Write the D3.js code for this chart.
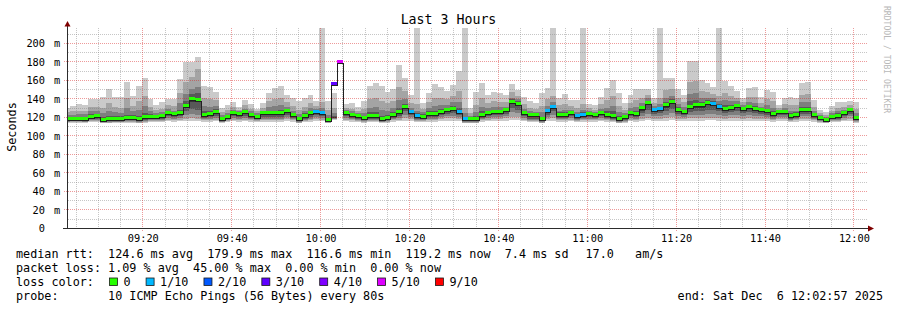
<!DOCTYPE html>
<html><head><meta charset="utf-8">
<script src="https://cdn.jsdelivr.net/npm/d3@7"></script>
<style>
body{margin:0;background:#fff;}
svg{display:block;font-family:"DejaVu Sans Mono",monospace;}
</style></head><body>
<svg id="chart" width="897" height="310"></svg>
<script>
// ---------------- data ----------------
const title = "Last 3 Hours";
const yLabel = "Seconds";
const watermark = "RRDTOOL / TOBI OETIKER";
const windowStart = "2025-12-06T09:02:57Z";
const windowEnd = "2025-12-06T12:02:57Z";
const firstSample = "2025-12-06T09:02:24Z";
const stepSeconds = 80;
const yMax = 216.2;
const yTicks = [0,20,40,60,80,100,120,140,160,180,200];

const median = [118,118,118,118,120.4,121,116.6,117.5,118,118,
118.6,119,117.8,119.5,120.4,120.4,121,124.5,122.7,124.5,
132,139,138.4,122,123.5,125.7,117.8,120.4,124.5,123.5,
125,122.5,120.5,124,124,124,124,126,122.3,117.6,
121.5,124,125.5,124.5,117,155.2,179.9,124.7,122.3,121.5,
118.7,121.5,121.5,118,119.4,122.3,125,130.6,125.5,121.5,
120.5,123.7,123.7,125.7,127.5,129,125.7,117.6,117.6,117.6,
122.3,124.7,125.7,125.7,127.2,136.5,134.3,124.7,121.7,121.7,
117.6,126.4,131,122.3,122.3,124.7,121,122.3,123.7,122.3,
124.7,122.3,121.2,117.6,119.8,124.7,123.7,129.2,135.4,127.5,
129,132.5,136,128,125.7,130.6,132.5,132.5,135.5,134,
131,129,130,131.8,129,130.6,129,127.2,126.4,123.7,
125.5,125.7,121.5,122.3,128,127.2,122.3,118.7,117,120.5,
121.5,124.7,127.2,119.2];

const loss = [0,0,0,0,0,0,0,0,0,0,
0,0,0,0,0,0,0,0,0,0,
0,0,0,0,0,0,0,0,0,0,
0,0,0,0,0,0,0,0,0,0,
0,0,1,1,0,3,4.5,0,0,0,
0,0,0,0,0,0,0,0,1,1,
0,0,0,0,0,0,1,1,0,0,
0,0,0,0,0,0,0,0,0,0,
0,1,1,0,0,0,1,1,0,0,
0,0,0,0,0,0,0,0,0,1,
1,0,0,0,0,0,0,0,0,1,
1,0,0,0,0,0,0,0,0,0,
0,0,0,0,0,0,0,0,0,0,
0,0,0,0];

const ping10 = [130,132,134,133,139,139,141.6,150,141.8,141.8,
158,142.5,153.5,162,139,133,136,139,139,161,
179.8,179,185,153.5,152,147.5,129.7,133,136.5,131,
138,134.5,129,135,146,151,153,144,140,137,
140,143.5,137,240,137.5,146,null,134,135,131,
137,153,157,153,147.5,150,176,162.5,143.5,240,
135,146,156,152.5,148,154.5,170,240,129.7,147,
157,144,147,146,144,155.7,149.6,142,137,135,
146,151,240,141,144.6,138.5,138.5,240,134,132.5,
142,151,160,146,135,144,150.4,150.4,150.4,141,
240,161.8,161.8,150,144,180,180,160,157,152.5,
240,159,153,148,141,151,152,141.4,149,147,
133,141,142,141,156.5,158.3,138.5,128,125.5,131.4,
136,136,137.5,136];

const ping9 = [125,126,127,126,131,131,130,135,131,130,
140,132,137,143,131,128,129,133,132,146,
158,163,172,141,139,138,125,128,131,128,
133,129,126,130,137,139,140,136,132,128,
131,135,132,136,128,130,null,130,129,127,
129,139,141,137,135,137,152,148,135,134,
129,136,141,140,139,143,148,130,124,133,
141,135,137,136,136,147,143,134,130,129,
132,139,143,133,134,132,130,134,130,128,
134,138,143,132,128,135,138,141,144,135,
140,149,150,140,136,158,159,148,147,145,
143,146,143,141,136,142,142,135,139,137,
130,134,133,133,144,145,131,124,122,127,
130,131,133,129];

const ping8 = [122,122,123,123,126,126,124,127,125,124,
130,126,128,132,126,124,125,129,127,135,
145,150,152,132,131,132,122,124,128,126,
129,126,124,127,131,132,133,131,127,123,
126,130,129,130,122,124,null,127.5,126,124.5,
124,130,131,128,127,130,138,139,130,127,
125,130,132,133,133,136,136,124,121,125,
131,130,131,131,131,141,139,129,126,125,
125,132,136,127,128,128,125,128,127,125.5,
129,130,132,125,124,130,131,135,140,132,
134,141,143,134,131,145,146,141,141,140,
137,138,137,137,133,136,135,131,133,130,
128,130,127,127,136,136,127,122,120,124,
126,128,130,124];

const ping7 = [120,120,120,120,123,123,120,121,121,121,
122,122,121,124,123,122,123,127,125,128,
137,145,146,126,127,129,120,122,126,125,
127,124,122,126,127,127,128,128,124,120,
124,127,127,127,119,121,null,126,124,123,
121,125,125,121,122,125,130,134,128,124,
123,126,127,129,130,132,130,120,119.5,121,
126,127,128,128,129,139,137,127,124,123.5,
120.5,129,133,125,125,126,123,125,125,124,
127,126,126,121,122,127,127,132,137.5,130,
131,136,139,131,128,137,138,136,138,137,
134,133,133,134,131,133,132,129,129,126,
127,128,124,125,131,131,124.5,120.5,118.5,122,
124,126.5,128.5,121];

const ping6 = [119,119,119,119,121.5,122,118,118.5,119,119,
120,120,119,121,121.5,121.5,122,125.5,123.5,126,
134,141,140,123,124.5,127,119,121.5,125.5,124.5,
126,123.5,121.5,125,125,125,125,127,123,118.5,
122.5,125,126.5,125.5,118,120,null,125.5,123,122.5,
119.5,122.5,122.5,119,120.5,123,126,132,126.5,122.5,
121.5,124.5,124.5,127,128.5,130,127,118.5,118.5,118.5,
123,125.5,127,127,128,137.5,135.5,125.5,122.5,122.5,
118.5,127.5,132,123,123,125.5,122,123,124.5,123,
125.5,123,122,118.5,120.5,125.5,124.5,130,136.5,128.5,
130,133.5,137,129,127,132,134,134,136.5,135,
132,130,131,133,130,131.5,130,128,127.5,124.5,
126.5,127,122.5,123,129,128,123,119.5,118,121.5,
122.5,125.5,128,120];

const ping5 = [117,117,117,117,119,120,116,117,117,117,
118,118,117,118,119,119,120,123,121,123,
130,136,136,121,122,124,117,119,123,122,
123,121,119,122,122,122,122,124,121,117,
120,122,124,123,116,119,null,123,121,120,
118,120,120,117,118,121,123,129,124,120,
119,122,122,124,126,127,124,117,117,117,
121,123,124,124,126,134,132,123,120,120,
117,125,129,121,121,123,120,121,122,121,
123,121,120,117,119,123,122,127,133,126,
127,130,134,126,124,129,130,130,133,132,
129,127,128,130,127,129,127,126,125,122,
124,124,120,121,126,126,121,118,116,119,
120,123,126,118];

const ping4 = [116,116,116,116,118,118,115,116,116,116,
117,117,116,117,118,118,118,121,120,121,
126,129,128,119,120,121,116,118,121,120,
121,119,118,120,120,120,120,122,119,116,
118,120,122,121,115.5,118.5,null,121,119,118,
117,118,118,116,117,119,121,126,122,118,
118,120,120,122,123,124,122,116,116,116,
119,121,122,122,123,130,128,121,118,118,
116,122,126,119,119,121,118,119,120,119,
121,119,118,116,117,121,120,124,128,123,
124,126,129,123,122,125,126,126,128,128,
126,124,125,126,124,125,124,123,122,120,
122,122,118,119,123,123,119,117,115.5,118,
118,121,123,117];

const ping3 = [115,116,116,115,117,117,115,115,115,115,
116,116,115,116,117,117,117,119,118,119,
122,123,122,118,118,119,115,117,119,118,
119,118,117,118,118,118,118,120,118,115,
117,118,120,119,115,118,null,119,118,117,
116,117,117,115,116,118,119,122,120,117,
117,118,118,120,121,121,120,115,115,115,
118,119,120,120,121,125,124,119,117,117,
115,120,122,118,118,119,117,118,118,118,
119,118,117,115,116,119,118,121,123,121,
121,122,124,121,120,122,122,122,123,123,
122,121,122,122,121,122,121,121,120,118,
120,120,117,118,121,121,118,116,115,117,
117,119,121,116];

const ping2 = [115,115,115,115,116,116,114,114,115,115,
115,115,114,115,116,116,116,117,117,117,
118,119,118,117,117,117,115,116,117,117,
117,117,116,117,117,117,117,118,117,114,
116,117,118,117,114,117.5,null,117,117,116,
115,116,116,114.5,115,117,117,119,118,116,
116,117,117,118,119,119,118,114,114,114,
117,117,118,118,119,120,120,117,116,116,
114,118,119,117,117,117,116,117,117,117,
117,117,116,114,115,117,117,118,119,118,
118,119,120,118,118,119,119,119,119,119,
119,118,119,119,118,119,118,118,118,117,
118,118,116,117,118,118,117,115,114,116,
116,117,118,115];

const ping1 = [114,114,114,114,115,115,113,113,114,114,
114,114,113,114,115,115,115,116,115,116,
116,116,116,115,115,116,114,115,116,115,
116,115,115,115,115,115,115,116,115,113,
115,115,116,116,113,117,null,116,115,115,
114,115,115,114,114,115,116,116,116,115,
115,115,115,116,116,116,116,113,113,113,
115,116,116,116,116,117,117,116,115,115,
113,116,116,115,115,116,115,115,115,115,
116,115,115,113,114,116,115,116,117,116,
116,116,117,116,116,116,116,116,117,117,
116,116,116,116,116,116,116,116,116,115,
116,116,115,115,116,116,115,114,113,115,
115,116,116,114];

const smokeColors = ["#cacaca","#a4a4a4","#7e7e7e","#585858","#323232"];
const lossLabels = ["0","1/10","2/10","3/10","4/10","5/10","9/10"];
const lossColors = ["#26ff00","#00b8ff","#0059ff","#5e00ff","#7e00ff","#dd00ff","#ff0000"];

const statLine1a = "median rtt:  124.6 ms avg  179.9 ms max  116.6 ms min  119.2 ms now  7.4 ms sd";
const statLine1b = "17.0   am/s";
const statLine2 = "packet loss: 1.09 % avg  45.00 % max  0.00 % min  0.00 % now";
const statLine3 = "loss color:";
const statLine4 = "probe:       10 ICMP Echo Pings (56 Bytes) every 80s";
const endLabel = "end: Sat Dec  6 12:02:57 2025";

// ---------------- drawing ----------------
const svg = d3.select("#chart");
const P = {left:67, right:867, top:28, bottom:228};
const x = d3.scaleUtc().domain([new Date(windowStart), new Date(windowEnd)]).range([P.left, P.right]);
const y = d3.scaleLinear().domain([0, yMax]).range([P.bottom, P.top]);
const T0 = Date.parse(firstSample), stepMs = stepSeconds*1000;
const pings = [ping1,ping2,ping3,ping4,ping5,ping6,ping7,ping8,ping9,ping10];
const steps = median.map((m,i)=>({
  t0:new Date(T0+i*stepMs), t1:new Date(T0+(i+1)*stepMs), med:m, loss:loss[i],
  p:pings.map(a=>a[i])
}));
function lossIdx(l){ if(l<=0) return 0; if(l>=9) return 6; if(l>5) return 5; return Math.ceil(l); }
const sx0 = s=>Math.round(x(s.t0)), sx1 = s=>Math.round(x(s.t1));

svg.append("rect").attr("width",897).attr("height",310).attr("fill","#fff");
svg.append("defs").append("clipPath").attr("id","clip").append("rect")
  .attr("x",P.left).attr("y",P.top).attr("width",P.right-P.left).attr("height",P.bottom-P.top);

// smoke
const gS = svg.append("g").attr("clip-path","url(#clip)").attr("shape-rendering","crispEdges");
for(let k=0;k<5;k++){
  gS.append("g").selectAll("rect")
    .data(steps.filter(s=>s.p[k]!=null && s.p[9-k]!=null)).join("rect")
    .attr("x",sx0).attr("width",s=>sx1(s)-sx0(s))
    .attr("y",s=>Math.round(y(s.p[9-k])))
    .attr("height",s=>Math.round(y(s.p[k]))-Math.round(y(s.p[9-k])))
    .attr("fill",smokeColors[k]);
}

// grid: dotted lines built from 1px dots (1 on / 1 off)
const minorY = d3.range(10, yMax, 10).filter(v=>v%20!==0);
const majorY = yTicks.filter(v=>v>0);
const minorC = "rgba(128,128,128,0.45)", majorC = "rgba(215,30,30,0.45)";
const majorT = x.ticks(d3.utcMinute.every(20));
const minorT = x.ticks(d3.utcMinute.every(5)).filter(t=>t.getUTCMinutes()%20!==0);
function hDots(py, xa, xb){ let d=""; for(let k=xa;k<xb;k+=2) d+=`M${k},${py}h1v1h-1z`; return d; }
function vDots(px, ya, yb){ let d=""; for(let k=ya;k<yb;k+=2) d+=`M${px},${k}h1v1h-1z`; return d; }
const gG = svg.append("g").attr("shape-rendering","crispEdges");
gG.selectAll(".hm").data(minorY).join("path")
  .attr("d",v=>hDots(Math.round(y(v)),P.left+1,P.right)).attr("fill",minorC);
gG.selectAll(".vm").data(minorT).join("path")
  .attr("d",t=>vDots(Math.floor(x(t)),P.top,P.bottom)).attr("fill",minorC);
gG.selectAll(".hM").data(majorY).join("path")
  .attr("d",v=>hDots(Math.round(y(v)),P.left-3,P.right)).attr("fill",majorC);
gG.selectAll(".vM").data(majorT).join("path")
  .attr("d",t=>vDots(Math.floor(x(t)),P.top,P.bottom+4)).attr("fill",majorC);

// median coloured by loss + dark line
const gM = svg.append("g").attr("clip-path","url(#clip)");
gM.append("g").attr("shape-rendering","crispEdges").selectAll("rect").data(steps).join("rect")
  .attr("x",sx0).attr("width",s=>sx1(s)-sx0(s))
  .attr("y",s=>Math.round(y(s.med))-2).attr("height",3)
  .attr("fill",s=>lossColors[lossIdx(s.loss)]);
const pts = [];
steps.forEach(s=>{ const Y=Math.round(y(s.med))+1.5; pts.push([sx0(s),Y],[sx1(s),Y]); });
gM.append("path").attr("d",d3.line()(pts)).attr("fill","none")
  .attr("stroke","#202020").attr("stroke-width",1).attr("shape-rendering","crispEdges");

// axes
const axisC = "#2c2c2c", arrowC = "#7f0000";
const xa = svg.append("g").attr("transform",`translate(0,${P.bottom})`)
  .call(d3.axisBottom(x).tickValues(majorT).tickFormat(d3.utcFormat("%H:%M")).tickSize(0).tickPadding(6.2));
xa.select(".domain").remove();
xa.selectAll("text").attr("font-family","DejaVu Sans Mono").attr("font-size","10.3px").attr("fill","#000");
const ya = svg.append("g").attr("transform",`translate(${P.left},0)`)
  .call(d3.axisLeft(y).tickValues(yTicks).tickFormat(d3.format("d")).tickSize(0).tickPadding(22));
ya.select(".domain").remove();
ya.selectAll("text").attr("font-family","DejaVu Sans Mono").attr("font-size","10.3px").attr("fill","#000").attr("dy","0.36em");
ya.selectAll(".tick").filter(d=>d>0).append("text").attr("x",-13).attr("dy","0.36em")
  .attr("text-anchor","start").attr("font-family","DejaVu Sans Mono").attr("font-size","10.3px").attr("fill","#000").text("m");

svg.append("line").attr("x1",P.left-4).attr("x2",P.right+1).attr("y1",P.bottom+0.5).attr("y2",P.bottom+0.5)
  .attr("stroke",axisC).attr("stroke-width",1).attr("shape-rendering","crispEdges");
svg.append("line").attr("x1",P.left+0.5).attr("x2",P.left+0.5).attr("y1",P.bottom+1).attr("y2",P.top-2)
  .attr("stroke",axisC).attr("stroke-width",1).attr("shape-rendering","crispEdges");
svg.append("path").attr("d",`M${P.left-2.5},${P.top-1.5}L${P.left+3.5},${P.top-1.5}L${P.left+0.5},${P.top-7}Z`).attr("fill",arrowC);
svg.append("path").attr("d",`M${P.right+1},${P.bottom-2.5}L${P.right+1},${P.bottom+3.5}L${P.right+7},${P.bottom+0.5}Z`).attr("fill",arrowC);

// title, unit label, watermark
svg.append("text").attr("x",448.5).attr("y",24).attr("text-anchor","middle")
  .attr("font-size","13.25px").attr("fill","#000").text(title);
svg.append("text").attr("transform","translate(15.5,127) rotate(-90)").attr("text-anchor","middle")
  .attr("font-size","11.78px").attr("fill","#000").text(yLabel);
svg.append("text").attr("transform","translate(884,6) rotate(90)").attr("text-anchor","start")
  .attr("font-size","8.1px").attr("fill","#b8b8b8").text(watermark);

// legend
const lf = "11.78px", cw = 7.092;
const lg = svg.append("g").attr("font-size",lf).attr("fill","#000");
function ltext(xp, yp, s, anchor){
  return lg.append("text").attr("x",xp).attr("y",yp).attr("xml:space","preserve")
    .style("white-space","pre").attr("text-anchor",anchor||"start").text(s);
}
ltext(16,258.2,statLine1a);
ltext(585.5,258.2,statLine1b);
ltext(16,272,statLine2);
ltext(16,285.7,statLine3);
ltext(16,299.5,statLine4);
ltext(883,299.5,endLabel,"end");
let bx = 109.5;
lossLabels.forEach((lab,i)=>{
  lg.append("rect").attr("x",bx).attr("y",278).attr("width",8).attr("height",7.5)
    .attr("fill",lossColors[i]).attr("stroke","#1a1a1a").attr("stroke-width",0.8);
  const tx = bx+14;
  ltext(tx,285.7,lab);
  bx = tx + lab.length*cw + 15.5;
});
</script>
</body></html>
